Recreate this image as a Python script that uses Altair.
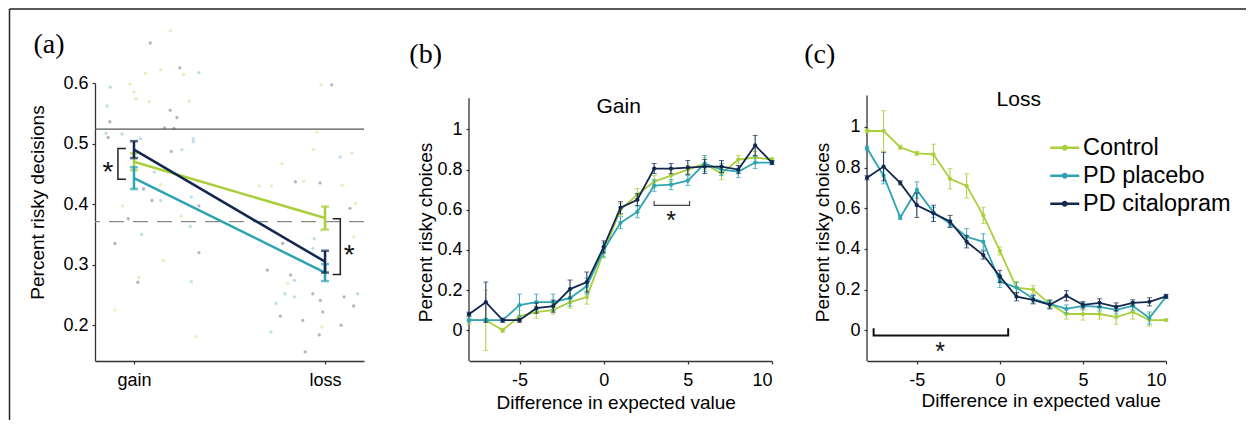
import altair as alt
import pandas as pd

# ---------------- data ----------------
groups = ["Control", "PD placebo", "PD citalopram"]
colors = ["#a9cf3b", "#2ea4b3", "#13284f"]

# panel (a): mean percent risky decisions (gain=0, loss=1)
cond_x = [0, 1]
a_mean = {"Control": [0.470, 0.377], "PD placebo": [0.443, 0.287], "PD citalopram": [0.490, 0.305]}
a_se = {"Control": [0.014, 0.019], "PD placebo": [0.018, 0.014], "PD citalopram": [0.014, 0.018]}
ref_solid = [0.524]
ref_dashed = [0.371]

# individual participants (faint dots)
dot_x = [0.19, 0.085, 0.06, 0.14, 0.24, 0.26, 0.34, -0.124, -0.02, 0.0, 0.01, 0.08, 0.29, -0.14, 0.19,
         0.225, -0.126, 0.16, 0.21, -0.147, -0.135, -0.063, 0.033, 0.31, 0.31, 0.25, 0.195, 0.106, 0.05,
         0.14, 0.3, 0.14, 0.094, -0.03, -0.1, 0.34, 0.3, 0.155, 0.02, 0.025, -0.1, 0.325, 0.04, -0.06,
         0.246, 0.295, 0.34,
         0.979, 1.035, 0.958, 0.94, 1.08, 1.14, 0.775, 0.845, 0.888, 0.974, 1.09, 0.72, 0.656, 1.16, 1.13,
         1.15, 0.98, 0.944, 0.936, 0.778, 0.698, 0.82, 0.84, 0.805, 0.79, 0.84, 0.743, 0.936, 0.975, 0.988,
         0.766, 0.883, 1.084, 1.1, 1.15, 1.17, 0.717, 0.97, 0.983, 0.896]
dot_v = [0.686, 0.666, 0.616, 0.622, 0.625, 0.614, 0.617, 0.593, 0.598, 0.585, 0.574, 0.569, 0.57, 0.562, 0.555,
         0.543, 0.536, 0.526, 0.525, 0.517, 0.51, 0.516, 0.508, 0.508, 0.503, 0.49, 0.487, 0.453, 0.425,
         0.432, 0.412, 0.406, 0.406, 0.376, 0.335, 0.32, 0.272, 0.307, 0.271, 0.279, 0.225, 0.181, 0.35, 0.397,
         0.38, 0.363, 0.397,
         0.597, 0.597, 0.519, 0.49, 0.478, 0.484, 0.467, 0.437, 0.438, 0.435, 0.431, 0.43, 0.43, 0.401, 0.393,
         0.346, 0.357, 0.343, 0.327, 0.335, 0.291, 0.283, 0.274, 0.269, 0.252, 0.247, 0.236, 0.252, 0.241, 0.222,
         0.215, 0.208, 0.2, 0.247, 0.232, 0.252, 0.189, 0.184, 0.197, 0.156]
dot_g = ["C", "D", "C", "C", "D", "C", "P", "P", "C", "C", "C", "C", "C", "P", "D",
         "D", "D", "D", "D", "P", "D", "P", "P", "P", "P", "P", "D", "P", "D",
         "C", "P", "P", "D", "D", "D", "D", "P", "C", "D", "C", "C", "C", "P", "C",
         "C", "P", "D",
         "C", "D", "C", "C", "P", "C", "C", "D", "C", "D", "C", "C", "C", "C", "D",
         "C", "C", "P", "P", "D", "D", "D", "P", "C", "P", "P", "P", "D", "D", "D",
         "D", "D", "D", "D", "D", "P", "P", "D", "C", "D"]
dot_code = {"C": "Control", "P": "PD placebo", "D": "PD citalopram"}

# significance brackets in (a)
brk_a1_x = [-0.042, -0.084, -0.084, -0.042]
brk_a1_y = [0.492, 0.492, 0.441, 0.441]
brk_a2_x = [1.04, 1.08, 1.08, 1.04]
brk_a2_y = [0.376, 0.376, 0.284, 0.284]
star_a_x = [-0.136, 1.127]
star_a_y = [0.464, 0.327]

# panels (b)/(c): difference in expected value
ev = [-8, -7, -6, -5, -4, -3, -2, -1, 0, 1, 2, 3, 4, 5, 6, 7, 8, 9, 10]

gain = {
    "Control": [0.05, 0.05, 0.00, 0.07, 0.09, 0.10, 0.14, 0.165, 0.39, 0.60, 0.675, 0.74, 0.77, 0.80, 0.83, 0.78, 0.85, 0.86, 0.85],
    "PD placebo": [0.05, 0.05, 0.05, 0.125, 0.14, 0.14, 0.16, 0.22, 0.40, 0.535, 0.59, 0.72, 0.725, 0.745, 0.83, 0.80, 0.79, 0.835, 0.835],
    "PD citalopram": [0.08, 0.14, 0.05, 0.05, 0.11, 0.12, 0.205, 0.24, 0.415, 0.61, 0.65, 0.805, 0.805, 0.81, 0.815, 0.815, 0.80, 0.92, 0.835],
}
gain_se = {
    "Control": [0.02, 0.15, 0.01, 0.03, 0.03, 0.02, 0.03, 0.035, 0.03, 0.03, 0.03, 0.03, 0.03, 0.02, 0.03, 0.03, 0.02, 0.03, 0.01],
    "PD placebo": [0.01, 0.01, 0.01, 0.055, 0.04, 0.04, 0.04, 0.04, 0.035, 0.03, 0.03, 0.03, 0.025, 0.025, 0.04, 0.03, 0.03, 0.03, 0.01],
    "PD citalopram": [0.01, 0.10, 0.01, 0.01, 0.025, 0.03, 0.045, 0.05, 0.03, 0.03, 0.03, 0.025, 0.025, 0.035, 0.035, 0.03, 0.02, 0.05, 0.01],
}
loss = {
    "Control": [0.98, 0.98, 0.90, 0.87, 0.865, 0.745, 0.71, 0.565, 0.39, 0.21, 0.20, 0.13, 0.08, 0.08, 0.08, 0.065, 0.09, 0.05, 0.05],
    "PD placebo": [0.895, 0.76, 0.555, 0.69, 0.58, 0.525, 0.46, 0.435, 0.24, 0.21, 0.155, 0.13, 0.105, 0.12, 0.115, 0.10, 0.12, 0.06, 0.165],
    "PD citalopram": [0.75, 0.805, 0.725, 0.615, 0.575, 0.535, 0.435, 0.37, 0.265, 0.165, 0.15, 0.125, 0.17, 0.125, 0.135, 0.115, 0.135, 0.14, 0.167],
}
loss_se = {
    "Control": [0.01, 0.10, 0.01, 0.01, 0.05, 0.05, 0.06, 0.04, 0.02, 0.03, 0.02, 0.02, 0.025, 0.03, 0.025, 0.035, 0.035, 0.03, 0.005],
    "PD placebo": [0.01, 0.04, 0.01, 0.04, 0.025, 0.015, 0.04, 0.04, 0.03, 0.025, 0.02, 0.02, 0.02, 0.02, 0.02, 0.02, 0.02, 0.03, 0.01],
    "PD citalopram": [0.01, 0.07, 0.01, 0.06, 0.04, 0.03, 0.03, 0.02, 0.03, 0.02, 0.02, 0.02, 0.025, 0.015, 0.02, 0.02, 0.015, 0.02, 0.01],
}

brk_b_x = [3.0, 3.0, 5.1, 5.1]
brk_b_y = [0.643, 0.622, 0.622, 0.643]
star_b = ([4.0], [0.572])
brk_c_x = [-7.6, -7.6, 0.5, 0.5]
brk_c_y = [0.01, -0.025, -0.025, 0.01]
star_c = ([-3.6], [-0.075])

# ---------------- styling helpers ----------------
FONT = "Liberation Sans"
SERIF = "Liberation Serif"
AX = dict(grid=False, domainColor="#333", tickColor="#333", domainWidth=1.3, tickWidth=1.2,
          labelFont=FONT, labelFontSize=18, labelColor="black", titleFont=FONT,
          titleFontSize=19, titleFontWeight="normal", titleColor="black")
LBL = "'' + datum.value"

color_scale = alt.Scale(domain=groups, range=colors)
color_of = dict(zip(groups, colors))
one = pd.DataFrame({"k": [0]})


def text_at(label, x, y, size, font=FONT):
    return alt.Chart(pd.DataFrame({"t": [label]})).mark_text(
        font=font, fontSize=size, baseline="middle", align="center", color="black"
    ).encode(x=alt.value(x), y=alt.value(y), text="t:N")


# ---------------- panel (a) ----------------
xs_a = alt.Scale(domain=[-0.204, 1.204], nice=False, zero=False)
ys_a = alt.Scale(domain=[0.141, 0.6], nice=False, zero=False)
ax_xa = alt.Axis(values=[0, 1], labelExpr="datum.value == 0 ? 'gain' : 'loss'", title=None,
                 tickSize=3, labelPadding=7, **AX)
ax_ya = alt.Axis(values=[0.2, 0.3, 0.4, 0.5, 0.6], labelExpr=LBL, title="Percent risky decisions",
                 titleX=-58, titleY=119, titleAngle=270, titleBaseline="middle", titleAlign="center",
                 tickSize=3, labelPadding=4, **AX)


def XA(f):
    return alt.X(f"{f}:Q", scale=xs_a, axis=ax_xa)


def YA(f):
    return alt.Y(f"{f}:Q", scale=ys_a, axis=ax_ya)


dots_df = pd.DataFrame({"x": dot_x, "v": dot_v, "g": [dot_code[c] for c in dot_g]})
a_layers = [
    alt.Chart(one).mark_rule(color="#222", strokeWidth=1.5).encode(
        x=alt.value(-85.5), x2=alt.value(1151), y=alt.value(-74)),
    alt.Chart(one).mark_rule(color="#222", strokeWidth=1.5).encode(
        x=alt.value(-85.5), y=alt.value(-74), y2=alt.value(337)),
    alt.Chart(dots_df).mark_circle(size=11, opacity=0.33).encode(
        x=XA("x"), y=YA("v"), color=alt.Color("g:N", scale=color_scale, legend=None)),
    alt.Chart(pd.DataFrame({"v": ref_solid})).mark_rule(color="#555", strokeWidth=1.2).encode(y=YA("v")),
    alt.Chart(pd.DataFrame({"v": ref_dashed})).mark_rule(color="#888", strokeWidth=1.2,
                                                          strokeDash=[15, 9]).encode(y=YA("v")),
]
for g in groups:
    df = pd.DataFrame({"x": cond_x, "m": a_mean[g],
                       "lo": [m - s for m, s in zip(a_mean[g], a_se[g])],
                       "hi": [m + s for m, s in zip(a_mean[g], a_se[g])]})
    c = color_of[g]
    a_layers += [
        alt.Chart(df).mark_line(strokeWidth=2.5, color=c).encode(x=XA("x"), y=YA("m")),
        alt.Chart(df).mark_rule(strokeWidth=2.5, color=c).encode(x=XA("x"), y=YA("lo"), y2="hi"),
        alt.Chart(df).mark_tick(orient="horizontal", size=8, thickness=2.5, color=c).encode(x=XA("x"), y=YA("lo")),
        alt.Chart(df).mark_tick(orient="horizontal", size=8, thickness=2.5, color=c).encode(x=XA("x"), y=YA("hi")),
    ]
for bx, by in [(brk_a1_x, brk_a1_y), (brk_a2_x, brk_a2_y)]:
    a_layers.append(alt.Chart(pd.DataFrame({"x": bx, "y": by, "o": [0, 1, 2, 3]})).mark_line(
        color="#222", strokeWidth=1.5).encode(x=XA("x"), y=YA("y"), order="o:Q"))
a_layers.append(alt.Chart(pd.DataFrame({"x": star_a_x, "y": star_a_y, "t": ["*", "*"]})).mark_text(
    font=FONT, fontSize=28, baseline="alphabetic", dy=16, color="#111").encode(x=XA("x"), y=YA("y"), text="t:N"))
a_layers.append(text_at("(a)", -46, -37.7, 28, SERIF))
panel_a = alt.layer(*a_layers).properties(width=269, height=278)


# ---------------- panels (b) and (c) ----------------
def ev_panel(values, ses, ydom, width, ytitle_x, xtitle_x, xtitle_y, title, title_xy,
             letter, letter_xy, brk, star, brk_color, brk_w, star_size, legend):
    xs = alt.Scale(domain=[-8, 10], nice=False, zero=False)
    ys = alt.Scale(domain=ydom, nice=False, zero=False)
    ax_x = alt.Axis(values=[-5, 0, 5, 10], labelExpr=LBL, title="Difference in expected value",
                    titleX=xtitle_x, titleY=xtitle_y, titleBaseline="middle", titleAlign="center",
                    tickSize=3, labelPadding=7, **AX)
    ax_y = alt.Axis(values=[0, 0.2, 0.4, 0.6, 0.8, 1], labelExpr=LBL, title="Percent risky choices",
                    titleX=ytitle_x, titleY=149, titleAngle=270, titleBaseline="middle",
                    titleAlign="center", domain=False, tickSize=3, labelPadding=4, **AX)

    def X(f):
        return alt.X(f"{f}:Q", scale=xs, axis=ax_x)

    def Y(f):
        return alt.Y(f"{f}:Q", scale=ys, axis=ax_y)

    layers = [
        alt.Chart(pd.DataFrame({"y1": [ydom[0]], "y2": [1.155]})).mark_rule(
            color="#333", strokeWidth=1.3).encode(x=alt.value(0), y=Y("y1"), y2="y2"),
    ]
    for g in groups:
        df = pd.DataFrame({"x": ev, "m": values[g],
                           "lo": [m - s for m, s in zip(values[g], ses[g])],
                           "hi": [m + s for m, s in zip(values[g], ses[g])], "g": g})
        c = color_of[g]
        layers += [
            alt.Chart(df).mark_line(strokeWidth=1.8, color=c).encode(x=X("x"), y=Y("m")),
            alt.Chart(df).mark_rule(strokeWidth=1, color=c).encode(x=X("x"), y=Y("lo"), y2="hi"),
            alt.Chart(df).mark_tick(orient="horizontal", size=5, thickness=1, color=c).encode(x=X("x"), y=Y("lo")),
            alt.Chart(df).mark_tick(orient="horizontal", size=5, thickness=1, color=c).encode(x=X("x"), y=Y("hi")),
            alt.Chart(df).mark_circle(size=18, opacity=1).encode(
                x=X("x"), y=Y("m"), color=alt.Color("g:N", scale=color_scale, legend=legend)),
        ]
    layers.append(alt.Chart(pd.DataFrame({"x": brk[0], "y": brk[1], "o": [0, 1, 2, 3]})).mark_line(
        color=brk_color, strokeWidth=brk_w).encode(x=X("x"), y=Y("y"), order="o:Q"))
    layers.append(alt.Chart(pd.DataFrame({"x": star[0], "y": star[1], "t": ["*"]})).mark_text(
        font=FONT, fontSize=star_size, baseline="alphabetic", dy=int(star_size * 0.58), color="#111").encode(
        x=X("x"), y=Y("y"), text="t:N"))
    layers.append(text_at(title, title_xy[0], title_xy[1], 21))
    layers.append(text_at(letter, letter_xy[0], letter_xy[1], 28, SERIF))
    return alt.layer(*layers).properties(width=width, height=278)


LEG_PATH = ("M-1.45,-0.125L1.45,-0.125L1.45,0.125L-1.45,0.125Z "
            "M0.3,0A0.3,0.3 0 1,1 -0.3,0A0.3,0.3 0 1,1 0.3,0Z")
legend_c = alt.Legend(title=None, orient="none", legendX=186, legendY=53, symbolType=LEG_PATH,
                      symbolSize=400, symbolStrokeWidth=0, labelFont=FONT, labelFontSize=23.5,
                      labelColor="black", labelOffset=6.5, rowPadding=3, padding=0, labelLimit=400)

panel_b = ev_panel(gain, gain_se, [-0.153, 1.231], 303, -43.5, 146.7, 41, "Gain", (149.7, 24),
                   "(b)", (-43.3, -27.7), (brk_b_x, brk_b_y), star_b, "#444", 1.2, 25, None)
panel_c = ev_panel(loss, loss_se, [-0.151, 1.216], 299, -44.5, 173.7, 39.3, "Loss", (151.7, 17.3),
                   "(c)", (-47.3, -27.7), (brk_c_x, brk_c_y), star_c, "#111", 2, 25, legend_c)

inner = alt.hconcat(panel_b, panel_c, spacing=95, bounds="flush").resolve_scale(color="independent")
chart = alt.hconcat(panel_a, inner, spacing=105, bounds="flush").resolve_scale(
    color="independent").properties(padding=0).configure_view(stroke=None)

chart.save("out.html", embed_options={"renderer": "svg", "actions": False})
